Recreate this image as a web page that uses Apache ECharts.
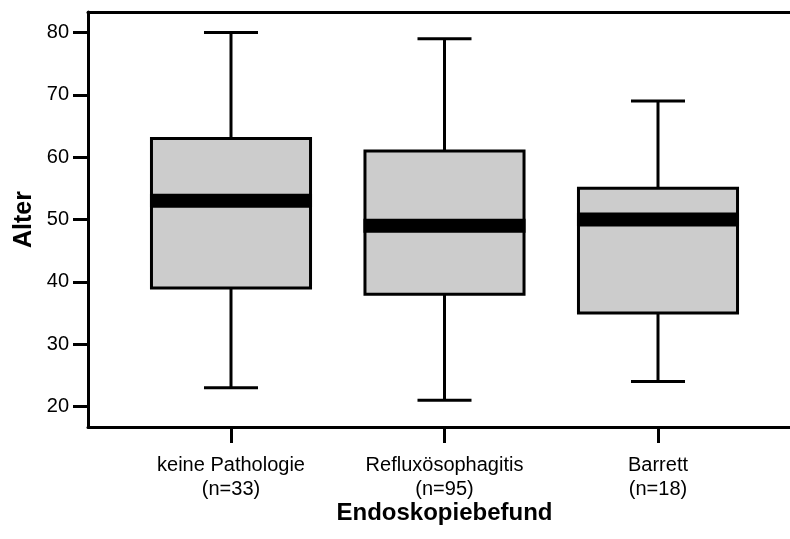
<!DOCTYPE html>
<html>
<head>
<meta charset="utf-8">
<script src="https://cdn.jsdelivr.net/npm/echarts@6/dist/echarts.min.js"></script>
<style>
html,body{margin:0;padding:0;background:#fff;}
#chart{width:790px;height:539px;}
</style>
</head>
<body>
<div id="chart"></div>
<script>
// Data
const categories = ['keine Pathologie', 'Refluxösophagitis', 'Barrett'];
const nCounts = [33, 95, 18];
const whiskerLow = [23, 21, 24];
const q1Values = [39, 38, 35];
const medianValues = [53, 49, 50];
const q3Values = [63, 61, 55];
const whiskerHigh = [80, 79, 69];
const yTickValues = [20, 30, 40, 50, 60, 70, 80];

const FONT = 'Arial, "Liberation Sans", Helvetica, sans-serif';
const Y_MIN = 16.7, Y_MAX = 83.3;

const seriesData = categories.map((c, i) => [i, whiskerLow[i], q1Values[i], medianValues[i], q3Values[i], whiskerHigh[i]]);

const chart = echarts.init(document.getElementById('chart'), null, {renderer: 'canvas'});

function renderItem(params, api) {
  const idx = api.value(0);
  const band = api.size([1, 0])[0];
  const boxW = band * 0.745;
  const capW = band * 0.253;
  const pMin = api.coord([idx, api.value(1)]);
  const pQ1 = api.coord([idx, api.value(2)]);
  const pMed = api.coord([idx, api.value(3)]);
  const pQ3 = api.coord([idx, api.value(4)]);
  const pMax = api.coord([idx, api.value(5)]);
  const cx = pMed[0];
  const lineStyle = {stroke: '#000', lineWidth: 3, fill: null};
  return {
    type: 'group',
    children: [
      {type: 'line', shape: {x1: cx, y1: pMax[1], x2: cx, y2: pQ3[1]}, style: lineStyle},
      {type: 'line', shape: {x1: cx, y1: pQ1[1], x2: cx, y2: pMin[1]}, style: lineStyle},
      {type: 'line', shape: {x1: cx - capW / 2, y1: pMax[1], x2: cx + capW / 2, y2: pMax[1]}, style: lineStyle},
      {type: 'line', shape: {x1: cx - capW / 2, y1: pMin[1], x2: cx + capW / 2, y2: pMin[1]}, style: lineStyle},
      {type: 'rect', shape: {x: cx - boxW / 2, y: pQ3[1], width: boxW, height: pQ1[1] - pQ3[1]},
        style: {fill: '#cccccc', stroke: '#000', lineWidth: 3}},
      {type: 'rect', shape: {x: cx - boxW / 2 - 1.5, y: pMed[1] - 7, width: boxW + 3, height: 14},
        style: {fill: '#000'}}
    ]
  };
}

const option = {
  backgroundColor: '#fff',
  animation: false,
  grid: [
    {left: 88, right: 0, top: 12, bottom: 112, containLabel: false},
    {left: 124.25, right: 25.25, top: 12, bottom: 112, containLabel: false}
  ],
  xAxis: [
    {gridIndex: 0, type: 'value', min: 0, max: 1, position: 'bottom',
      axisLine: {show: true, lineStyle: {color: '#000', width: 3}},
      axisTick: {show: false}, axisLabel: {show: false}, splitLine: {show: false}},
    {gridIndex: 0, type: 'value', min: 0, max: 1, position: 'top',
      axisLine: {show: true, lineStyle: {color: '#000', width: 3}},
      axisTick: {show: false}, axisLabel: {show: false}, splitLine: {show: false}},
    {gridIndex: 1, type: 'category', data: categories, position: 'bottom',
      axisLine: {show: false},
      axisTick: {show: true, alignWithLabel: true, length: 16, lineStyle: {color: '#000', width: 3}},
      axisLabel: {show: true, interval: 0, margin: 26, color: '#000', fontFamily: FONT, fontSize: 20, lineHeight: 24,
        formatter: (v, i) => v + '\n(n=' + nCounts[i] + ')'},
      splitLine: {show: false},
      name: 'Endoskopiebefund', nameLocation: 'middle', nameGap: 74, nameMoveOverlap: false,
      nameTextStyle: {color: '#000', fontFamily: FONT, fontSize: 24, fontWeight: 'bold'}}
  ],
  yAxis: [
    {gridIndex: 0, type: 'value', min: Y_MIN, max: Y_MAX,
      axisLine: {show: true, lineStyle: {color: '#000', width: 3}},
      axisTick: {show: true, length: 15, lineStyle: {color: '#000', width: 3}, customValues: yTickValues},
      axisLabel: {show: true, margin: 19, color: '#000', fontFamily: FONT, fontSize: 20, customValues: yTickValues},
      splitLine: {show: false},
      name: 'Alter', nameLocation: 'middle', nameGap: 51, nameMoveOverlap: false,
      nameTextStyle: {color: '#000', fontFamily: FONT, fontSize: 25, fontWeight: 'bold'}},
    {gridIndex: 1, type: 'value', min: Y_MIN, max: Y_MAX, show: false,
      splitLine: {show: false}}
  ],
  series: [
    {type: 'custom', xAxisIndex: 2, yAxisIndex: 1, renderItem: renderItem, data: seriesData, clip: false}
  ]
};
chart.setOption(option);
</script>
</body>
</html>
